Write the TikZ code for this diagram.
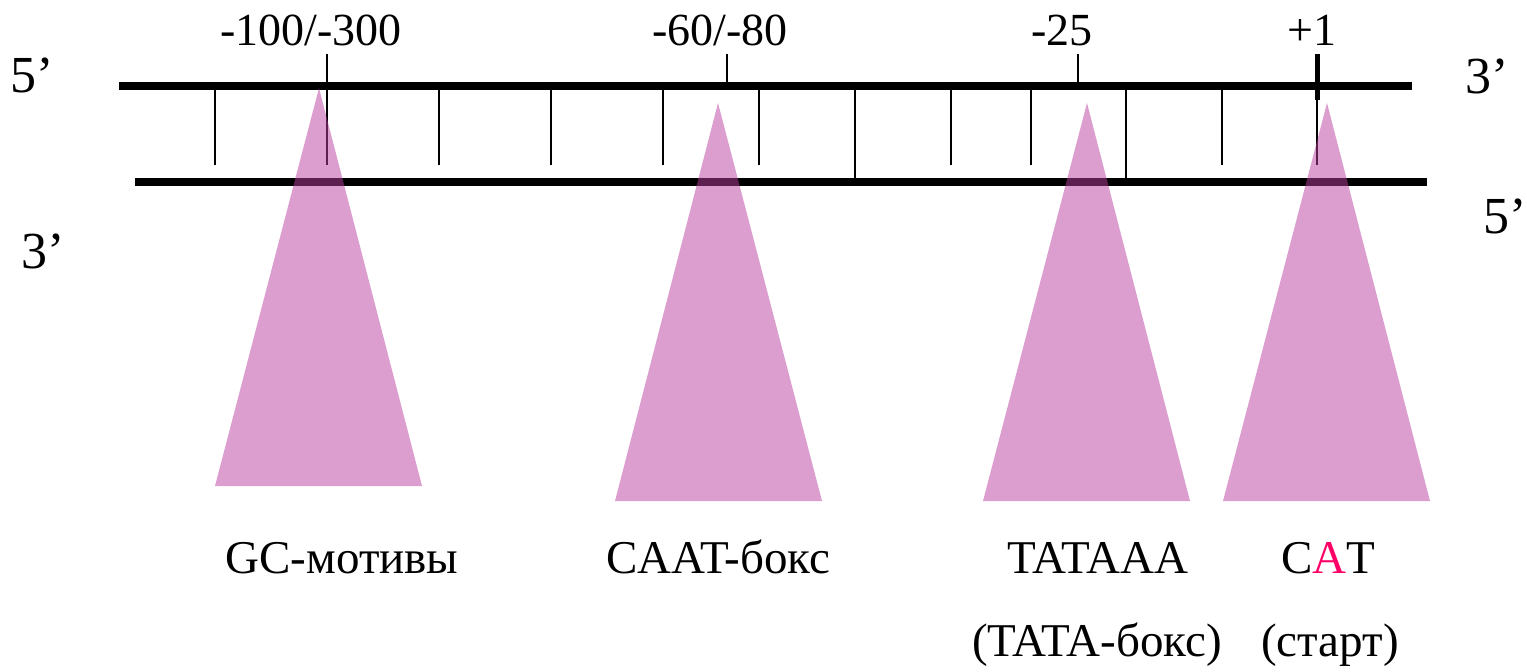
\documentclass[tikz,border=0pt]{standalone}
\usepackage{fontspec}
\setmainfont{Liberation Serif}
\definecolor{boxfill}{RGB}{184,62,158}
\definecolor{startred}{RGB}{255,0,102}
\begin{document}
\begin{tikzpicture}[x=1pt,y=-1pt,
  strand/.style={line width=8pt},
  rung/.style={line width=2pt},
  starttick/.style={line width=5pt},
  site/.style={fill=boxfill,fill opacity=0.5},
  poslbl/.style={font=\fontsize{46}{52}\selectfont,anchor=base,inner sep=0pt},
  endlbl/.style={font=\fontsize{52}{60}\selectfont,anchor=base,inner sep=0pt},
  elemlbl/.style={font=\fontsize{47}{53}\selectfont,anchor=base,inner sep=0pt}]
\useasboundingbox (0,0) rectangle (1527,672);

% the two strands
\coordinate (topL) at (119,86);
\coordinate (topR) at (1412,86);
\coordinate (botL) at (135,182);
\coordinate (botR) at (1427,182);
\draw[strand] (topL) -- (topR);
\draw[strand] (botL) -- (botR);

% base-pair rungs
\foreach \x in {215,439,551,663,759,951,1031,1222}
  \draw[rung] (\x,90) -- (\x,165);
\foreach \x in {855,1126}
  \draw[rung] (\x,90) -- (\x,182);
\draw[rung] (327,54) -- (327,165);
\draw[rung] (727,54) -- (727,86);
\draw[rung] (1078,54) -- (1078,86);
\draw[starttick] (1317,54) -- (1317,100);
\draw[rung] (1317,100) -- (1317,165);

% binding sites
\fill[site] (319,88) -- (422,486) -- (215,486) -- cycle;
\fill[site] (718,103) -- (822,501) -- (615,501) -- cycle;
\fill[site] (1087,103) -- (1190,501) -- (983,501) -- cycle;
\fill[site] (1327,103) -- (1430,501) -- (1223,501) -- cycle;

% positions
\node[poslbl] (p1) at (311,45) {-100/-300};
\node[poslbl] (p2) at (720,45) {-60/-80};
\node[poslbl] (p3) at (1062,45) {-25};
\node[poslbl] (p4) at (1312,45) {+1};

% strand ends
\node[endlbl] (e1) at (32,92) {5’};
\node[endlbl] (e2) at (43,268) {3’};
\node[endlbl] (e3) at (1487,93) {3’};
\node[endlbl] (e4) at (1505,233) {5’};

% element names
\node[elemlbl] (gc) at (342,573) {GC-мотивы};
\node[elemlbl] (caat) at (718,573) {CAAT-бокс};
\node[elemlbl] (tata) at (1098,573) {TATAAA};
\node[elemlbl] (tatab) at (1097,656) {(TATA-бокс)};
\node[elemlbl] (cat) at (1328,573) {C{\color{startred}A}T};
\node[elemlbl] (start) at (1330,656) {(старт)};
\end{tikzpicture}
\end{document}
